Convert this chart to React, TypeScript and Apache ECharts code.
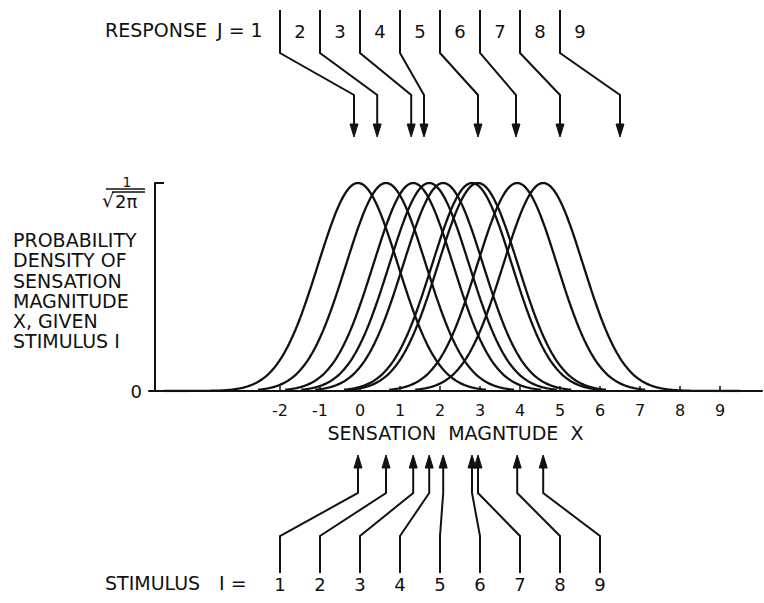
import React, { useEffect, useRef } from "react";
import * as echarts from "echarts";

// ---- data ----
// means of the sensation distributions for stimuli I = 1..9 (standard normal, sd = 1)
const STIMULUS_MEANS = [-0.05, 0.65, 1.33, 1.73, 2.08, 2.8, 2.95, 3.93, 4.58];
const STIMULUS_LABELS = ["1", "2", "3", "4", "5", "6", "7", "8", "9"];
// response category boundaries (between J and J+1)
const RESPONSE_BOUNDARIES = [-0.15, 0.43, 1.28, 1.6, 2.95, 3.9, 5.0, 6.5];
const RESPONSE_LABELS = ["1", "2", "3", "4", "5", "6", "7", "8", "9"];
const X_TICKS = [-2, -1, 0, 1, 2, 3, 4, 5, 6, 7, 8, 9];
const SD = 1;

// ---- layout (positions in axis units used only for placing annotation lines) ----
const STIM_LABEL_POS = [-2, -1, 0, 1, 2, 3, 4, 5, 6];
const RESP_DIVIDER_POS = [-2, -1, 0, 1, 2, 3, 4, 5];
const XMIN = -5.275;
const XMAX = 10.05;
const YMAX = 1 / Math.sqrt(2 * Math.PI);
const FONT = "DejaVu Sans";
const INK = "#111";

function pdf(x: number, m: number) {
  const z = (x - m) / SD;
  return Math.exp(-0.5 * z * z) / (SD * Math.sqrt(2 * Math.PI));
}

function curve(m: number, i: number, n: number) {
  const start = i === 0 ? -4.9 : m - 3.2;
  const end = i === n - 1 ? 9.5 : m + 3.2;
  const pts: number[][] = [];
  const steps = Math.round((end - start) / 0.04);
  for (let k = 0; k <= steps; k++) {
    const x = start + ((end - start) * k) / steps;
    pts.push([x, pdf(x, m)]);
  }
  return pts;
}

export default function App() {
  const ref = useRef<HTMLDivElement>(null);
  useEffect(() => {
    if (!ref.current) return;
    const chart = echarts.init(ref.current, null, { renderer: "svg" });

    const curveSeries = STIMULUS_MEANS.map((m, i) => ({
      type: "line",
      data: curve(m, i, STIMULUS_MEANS.length),
      showSymbol: false,
      symbol: "none",
      smooth: false,
      lineStyle: { color: INK, width: 2.3 },
      silent: true,
      z: 3,
    }));

    const responseSeries = {
      type: "custom",
      clip: false,
      silent: true,
      z: 5,
      data: RESPONSE_BOUNDARIES.map((b, i) => [b, RESP_DIVIDER_POS[i], i]),
      renderItem: (params: any, api: any) => {
        const cs = params.coordSys;
        const top = cs.y;
        const tx = api.coord([api.value(0), 0])[0];
        const dx = api.coord([api.value(1), 0])[0];
        const lx = api.coord([api.value(1) + 0.5, 0])[0];
        const idx = api.value(2);
        return {
          type: "group",
          children: [
            {
              type: "polyline",
              shape: {
                points: [
                  [dx, top - 173],
                  [dx, top - 130],
                  [tx, top - 88],
                  [tx, top - 56],
                ],
              },
              style: { stroke: INK, lineWidth: 2, fill: null },
            },
            {
              type: "polygon",
              shape: {
                points: [
                  [tx - 4, top - 59],
                  [tx + 4, top - 59],
                  [tx, top - 46],
                ],
              },
              style: { fill: INK, stroke: INK, lineWidth: 1 },
            },
            {
              type: "text",
              style: {
                x: lx,
                y: top - 152,
                text: RESPONSE_LABELS[idx + 1],
                fill: INK,
                font: `18px '${FONT}'`,
                align: "center",
                verticalAlign: "middle",
              },
            },
          ],
        };
      },
    };

    const stimulusSeries = {
      type: "custom",
      clip: false,
      silent: true,
      z: 5,
      data: STIMULUS_MEANS.map((m, i) => [m, STIM_LABEL_POS[i], i]),
      renderItem: (params: any, api: any) => {
        const cs = params.coordSys;
        const bottom = cs.y + cs.height;
        const mx = api.coord([api.value(0), 0])[0];
        const sx = api.coord([api.value(1), 0])[0];
        const idx = api.value(2);
        return {
          type: "group",
          children: [
            {
              type: "polyline",
              shape: {
                points: [
                  [sx, bottom + 182],
                  [sx, bottom + 145],
                  [mx, bottom + 102],
                  [mx, bottom + 74],
                ],
              },
              style: { stroke: INK, lineWidth: 2, fill: null },
            },
            {
              type: "polygon",
              shape: {
                points: [
                  [mx - 4, bottom + 77],
                  [mx + 4, bottom + 77],
                  [mx, bottom + 64],
                ],
              },
              style: { fill: INK, stroke: INK, lineWidth: 1 },
            },
            {
              type: "text",
              style: {
                x: sx,
                y: bottom + 193,
                text: STIMULUS_LABELS[idx],
                fill: INK,
                font: `18px '${FONT}'`,
                align: "center",
                verticalAlign: "middle",
              },
            },
          ],
        };
      },
    };

    const textStyle = (size: number) => ({
      fill: INK,
      font: `${size}px '${FONT}'`,
    });

    chart.setOption({
      animation: false,
      backgroundColor: "#ffffff",
      grid: { left: 149, right: 2, top: 183, bottom: 212 },
      xAxis: {
        type: "value",
        min: XMIN,
        max: XMAX,
        axisLine: { show: true, onZero: false, lineStyle: { color: INK, width: 2 } },
        axisTick: {
          show: true,
          inside: true,
          length: 5,
          customValues: X_TICKS,
          lineStyle: { color: INK, width: 1.5 },
        },
        axisLabel: {
          show: true,
          customValues: X_TICKS,
          fontSize: 16,
          fontFamily: FONT,
          color: INK,
          margin: 11,
        },
        splitLine: { show: false },
        name: "SENSATION  MAGNTUDE  X",
        nameLocation: "middle",
        nameGap: 32,
        nameTextStyle: { fontSize: 19, fontFamily: FONT, color: INK },
      },
      yAxis: {
        type: "value",
        min: 0,
        max: YMAX,
        offset: -6,
        axisLine: { show: true, onZero: false, lineStyle: { color: INK, width: 2 } },
        axisTick: {
          show: true,
          inside: true,
          length: 9,
          customValues: [YMAX],
          lineStyle: { color: INK, width: 2 },
        },
        axisLabel: {
          show: true,
          customValues: [0],
          fontSize: 18,
          fontFamily: FONT,
          color: INK,
          margin: 13,
        },
        splitLine: { show: false },
      },
      graphic: [
        { type: "text", left: 105, top: 20, style: { text: "RESPONSE", ...textStyle(19) } },
        { type: "text", left: 217, top: 20, style: { text: "J = 1", ...textStyle(19) } },
        { type: "text", left: 105, top: 573, style: { text: "STIMULUS", ...textStyle(19) } },
        { type: "text", left: 219, top: 573, style: { text: "I =", ...textStyle(19) } },
        {
          type: "text",
          left: 13,
          top: 230,
          style: {
            text: "PROBABILITY\nDENSITY OF\nSENSATION\nMAGNITUDE\nX, GIVEN\nSTIMULUS I",
            lineHeight: 20.2,
            ...textStyle(19),
          },
        },
        {
          type: "text",
          x: 127,
          y: 182,
          style: { text: "1", align: "center", verticalAlign: "middle", ...textStyle(14) },
        },
        {
          type: "line",
          shape: { x1: 106, y1: 189, x2: 145, y2: 189 },
          style: { stroke: INK, lineWidth: 1.5 },
        },
        {
          type: "text",
          x: 114,
          y: 200,
          style: { text: "√", align: "right", verticalAlign: "middle", ...textStyle(19) },
        },
        {
          type: "line",
          shape: { x1: 112, y1: 192, x2: 145, y2: 192 },
          style: { stroke: INK, lineWidth: 1.5 },
        },
        {
          type: "text",
          x: 115,
          y: 201,
          style: { text: "2π", align: "left", verticalAlign: "middle", ...textStyle(18) },
        },
      ],
      series: [...curveSeries, responseSeries, stimulusSeries],
    } as any);

    return () => chart.dispose();
  }, []);

  return (
    <div
      ref={ref}
      style={{ position: "absolute", left: 0, top: 0, width: "764px", height: "603px", background: "#fff" }}
    />
  );
}
